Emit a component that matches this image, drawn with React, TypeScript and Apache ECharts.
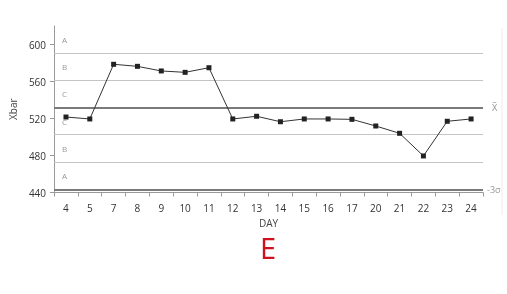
import React, { useEffect, useRef } from "react";
import * as echarts from "echarts";

const days = ["4", "5", "7", "8", "9", "10", "11", "12", "13", "14", "15", "16", "17", "20", "21", "22", "23", "24"];
const xbar = [521.6, 519.5, 578.6, 576.4, 571.4, 569.9, 574.9, 519.5, 522.4, 516.5, 519.5, 519.5, 519.1, 511.9, 504, 479.5, 517, 519.5];
const yTicks = [440, 480, 520, 560, 600];
const centerLine = 532;
const sigma = 29.5;
const zoneNames = ["A", "B", "C", "C", "B", "A"];

const App: React.FC = () => {
  const ref = useRef<HTMLDivElement>(null);
  useEffect(() => {
    if (!ref.current) return;
    const chart = echarts.init(ref.current, undefined, { renderer: "svg" });
    const font = "'Open Sans', 'Noto Sans', sans-serif";
    const bounds = [3, 2, 1, 0, -1, -2, -3].map((k) => centerLine + k * sigma);
    const zones = zoneNames.map((n, i) => [
      { name: n, yAxis: bounds[i + 1] },
      { yAxis: bounds[i] },
    ]);
    const thin = { color: "#c4c4c4", width: 1, type: "solid" };
    const thick = { color: "#7a7a7a", width: 2, type: "solid" };
    chart.setOption({
      animation: false,
      textStyle: { fontFamily: font },
      grid: { left: 50, right: 24, top: 26, bottom: 101.5 },
      xAxis: {
        type: "category",
        data: days,
        boundaryGap: true,
        name: "DAY",
        nameLocation: "middle",
        nameGap: 25,
        nameTextStyle: { color: "#444", fontSize: 10, fontFamily: font },
        axisLine: { lineStyle: { color: "#999" } },
        axisTick: { show: true, alignWithLabel: false, length: 4, lineStyle: { color: "#999" } },
        axisLabel: { color: "#333", fontSize: 10, margin: 10, fontFamily: font },
        splitLine: { show: false },
      },
      yAxis: {
        type: "value",
        min: 440,
        max: 620,
        interval: 40,
        name: "Xbar",
        nameLocation: "middle",
        nameGap: 32,
        nameTextStyle: { color: "#444", fontSize: 10, fontFamily: font },
        axisLine: { show: true, lineStyle: { color: "#999" } },
        axisTick: { show: true, length: 4, lineStyle: { color: "#999" } },
        axisLabel: {
          color: "#333",
          fontSize: 10,
          margin: 8,
          fontFamily: font,
          showMaxLabel: false,
          formatter: (v: number) => (yTicks.includes(v) ? String(v) : ""),
        },
        splitLine: { show: false },
      },
      series: [
        {
          type: "line",
          data: xbar,
          symbol: "rect",
          symbolSize: 5,
          itemStyle: { color: "#222" },
          lineStyle: { color: "#333", width: 1 },
          z: 5,
          markLine: {
            silent: true,
            symbol: "none",
            animation: false,
            data: [
              { yAxis: bounds[1], lineStyle: thin, label: { show: false } },
              { yAxis: bounds[2], lineStyle: thin, label: { show: false } },
              {
                yAxis: bounds[3],
                lineStyle: thick,
                label: { show: true, position: "end", formatter: "X\u0305", color: "#999", fontSize: 9, distance: 9 },
              },
              { yAxis: bounds[4], lineStyle: thin, label: { show: false } },
              { yAxis: bounds[5], lineStyle: thin, label: { show: false } },
              {
                yAxis: bounds[6],
                lineStyle: thick,
                label: { show: true, position: "end", formatter: "-3\u03c3", color: "#999", fontSize: 9, distance: 4 },
              },
            ],
          },
          markArea: {
            silent: true,
            itemStyle: { color: "rgba(0,0,0,0)" },
            label: {
              show: true,
              position: "insideLeft",
              distance: 8,
              formatter: "{b}",
              color: "#999",
              fontSize: 8,
              fontFamily: font,
            },
            data: zones,
          },
        },
      ],
      graphic: [
        {
          type: "line",
          shape: { x1: 502, y1: 28, x2: 502, y2: 215 },
          style: { stroke: "#ececec", lineWidth: 1 },
          silent: true,
        },
        {
          type: "text",
          left: 260,
          top: 233,
          style: { text: "E", fill: "#d0101e", fontSize: 29, lineHeight: 29, fontFamily: font },
        },
      ],
    });
    return () => chart.dispose();
  }, []);
  return <div ref={ref} style={{ position: "fixed", left: 0, top: 0, width: 507, height: 294 }} />;
};

export default App;
